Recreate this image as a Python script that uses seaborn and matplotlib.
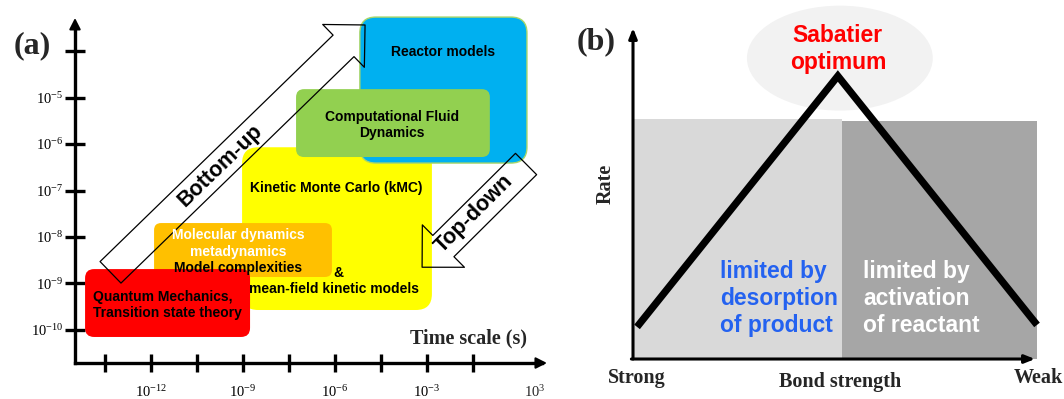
import matplotlib
matplotlib.use("Agg")
import matplotlib.pyplot as plt
import seaborn as sns
from matplotlib.patches import FancyBboxPatch, FancyArrowPatch, Rectangle, Ellipse

sns.set_theme(style="white")
plt.rcParams["font.family"] = ["Liberation Sans", "DejaVu Sans"]
plt.rcParams["mathtext.fontset"] = "custom"
plt.rcParams["mathtext.rm"] = "Liberation Serif"
plt.rcParams["mathtext.it"] = "Liberation Serif:italic"
plt.rcParams["mathtext.bf"] = "Liberation Serif:bold"
SERIF = ["Liberation Serif", "DejaVu Serif"]

# ---------------- panel (a): methods on log10 time / log10 length scales
x_tick_pos = [-13.5, -12, -10.5, -9, -7.5, -6, -4.5, -3, -1.5]
x_tick_labels = ["", "$10^{-12}$", "", "$10^{-9}$", "", "$10^{-6}$", "", "$10^{-3}$", ""]
x_extra_pos = [0.52]
x_extra_labels = ["$10^{3}$"]
y_tick_pos = [-10, -9, -8, -7, -6, -5, -4]
y_tick_labels = ["$10^{-10}$", "$10^{-9}$", "$10^{-8}$", "$10^{-7}$", "$10^{-6}$", "$10^{-5}$", ""]

# boxes, in drawing order (back to front)
box_names = ["kmc", "reactor", "cfd", "md", "qm"]
box_t_lo = [-9.03, -5.19, -7.27, -11.90, -14.15]
box_t_hi = [-2.84, 0.26, -0.95, -6.10, -8.77]
box_L_lo = [-9.57, -6.41, -6.28, -8.86, -10.15]
box_L_hi = [-6.07, -3.27, -4.82, -7.70, -8.69]
box_colors = ["#FFFF00", "#00B0F0", "#92D050", "#FFC000", "#FF0000"]
box_edges = ["none", "#A9D66A", "none", "none", "none"]
box_radius_px = [16, 16, 8, 7, 9]

# labels inside the boxes
box_text = ["Quantum Mechanics,\nTransition state theory",
            "Molecular dynamics", "metadynamics", "Model complexities",
            "Kinetic Monte Carlo (kMC)", "&", "mean-field kinetic models",
            "Computational Fluid\nDynamics", "Reactor models"]
box_text_t = [-13.89, -9.16, -9.16, -9.16, -5.95, -5.90, -6.03, -4.14, -2.48]
box_text_L = [-9.46, -7.96, -8.32, -8.67, -6.95, -8.77, -9.12, -5.59, -4.02]
box_text_color = ["black", "white", "white", "black", "black", "black", "black", "black", "black"]
box_text_ha = ["left", "center", "center", "center", "center", "center", "center", "center", "center"]

# hollow direction arrows: (tail, tip)
arrow_names = ["Bottom-up", "Top-down"]
arrow_tail = [(-13.32, -8.76), (0.23, -6.43)]
arrow_tip = [(-5.02, -3.44), (-3.16, -8.65)]
arrow_text_pos = [(-9.75, -6.47), (-1.47, -7.50)]
arrow_text_rot = [44, 45]

# ---------------- panel (b): volcano plot
bond = [0.01, 0.507, 1.0]
rate = [0.097, 0.855, 0.103]
region_x = [0.002, 0.517]
region_w = [0.515, 0.483]
region_h = [0.725, 0.719]
region_colors = ["#D9D9D9", "#A6A6A6"]

fig = plt.figure(figsize=(10.64, 3.99), dpi=100)
fig.patch.set_facecolor("white")

# ======== panel (a)
ax = fig.add_axes([0, 0, 560 / 1064, 1])
ax.set_facecolor("none")
ax.set_xlim(-16.924, 1.337)
ax.set_ylim(-11.484, -2.903)
fig.canvas.draw()
p0 = ax.transData.transform((0, 0))
p1 = ax.transData.transform((1, 1))
px_x, px_y = p1[0] - p0[0], p1[1] - p0[1]

x_axis_L = -10.71
y_axis_t = -14.478
for side in ["top", "right"]:
    ax.spines[side].set_visible(False)
ax.spines["left"].set_position(("data", y_axis_t))
ax.spines["bottom"].set_position(("data", x_axis_L))
ax.spines["left"].set_bounds(x_axis_L, -3.45)
ax.spines["bottom"].set_bounds(y_axis_t, 0.75)
for side in ["left", "bottom"]:
    ax.spines[side].set_linewidth(2.4)
    ax.spines[side].set_color("black")
    ax.spines[side].set_capstyle("projecting")
ax.annotate("", xy=(y_axis_t, -3.29), xytext=(y_axis_t, -3.6),
            arrowprops=dict(arrowstyle="-|>,head_length=0.55,head_width=0.28",
                            color="black", lw=1.5, shrinkA=0, shrinkB=0))
ax.annotate("", xy=(0.911, x_axis_L), xytext=(0.4, x_axis_L),
            arrowprops=dict(arrowstyle="-|>,head_length=0.55,head_width=0.28",
                            color="black", lw=1.5, shrinkA=0, shrinkB=0))

ax.set_xticks(x_tick_pos)
ax.set_xticklabels(x_tick_labels)
ax.set_xticks(x_extra_pos, minor=True)
ax.set_xticklabels(x_extra_labels, minor=True)
ax.set_yticks(y_tick_pos)
ax.set_yticklabels(y_tick_labels)
ax.tick_params(axis="x", which="major", direction="inout", length=13, width=2.4,
               pad=9, labelsize=10.5, colors="black")
ax.tick_params(axis="x", which="minor", length=0, pad=15.5, labelsize=10.5)
ax.tick_params(axis="y", which="major", direction="inout", length=14.4, width=2.4,
               pad=1.5, labelsize=10.5, colors="black")
ax.tick_params(left=True, bottom=True)

aspect = px_x / px_y
for t0, t1, l0, l1, c, ec, r in zip(box_t_lo, box_t_hi, box_L_lo, box_L_hi,
                                    box_colors, box_edges, box_radius_px):
    ax.add_patch(FancyBboxPatch((t0, l0), t1 - t0, l1 - l0,
                                boxstyle=f"round,pad=0,rounding_size={r / px_x}",
                                mutation_aspect=aspect, facecolor=c,
                                edgecolor=ec, linewidth=1.0, zorder=2))

for (ta, la), (tb, lb) in zip(arrow_tail, arrow_tip):
    ax.add_patch(FancyArrowPatch((ta, la), (tb, lb),
                                 arrowstyle="simple,head_length=21.6,head_width=43,tail_width=21.6",
                                 mutation_scale=1, shrinkA=0, shrinkB=0,
                                 facecolor="none", edgecolor="black",
                                 linewidth=0.9, zorder=4))

for s, t, l, c, ha in zip(box_text, box_text_t, box_text_L, box_text_color, box_text_ha):
    ax.text(t, l, s, color=c, ha=ha, va="center", fontsize=10, fontweight="bold",
            linespacing=1.15, zorder=5)

for s, (t, l), rot in zip(arrow_names, arrow_text_pos, arrow_text_rot):
    ax.text(t, l, s, rotation=rot, rotation_mode="anchor", ha="center", va="center",
            fontsize=15.5, fontweight="bold", color="black", zorder=5)

ax.text(-1.66, -10.19, "Time scale (s)", family=SERIF, fontweight="bold",
        fontsize=14.5, ha="center", va="center")
ax.text(-15.88, -3.89, "(a)", family=SERIF, fontweight="bold", fontsize=23,
        ha="center", va="center")

# ======== panel (b)
bx = fig.add_axes([560 / 1064, 0, 504 / 1064, 1])
bx.set_facecolor("none")
bx.set_xlim(-0.1807, 1.0668)
bx.set_ylim(-0.1208, 1.0846)
bx.set_axis_off()

for x0, w, h, c in zip(region_x, region_w, region_h, region_colors):
    bx.add_patch(Rectangle((x0, 0), w, h, facecolor=c, edgecolor="none", zorder=1))
bx.add_patch(Ellipse((0.512, 0.909), 0.46, 0.317, facecolor="#F2F2F2",
                     edgecolor="none", zorder=1))

sns.lineplot(x=bond, y=rate, sort=False, color="black", linewidth=5.2, ax=bx,
             zorder=3, solid_joinstyle="miter", solid_capstyle="butt")

bx.annotate("", xy=(0, 1.0), xytext=(0, 0),
            arrowprops=dict(arrowstyle="-|>,head_length=0.5,head_width=0.2",
                            color="black", lw=2.2, shrinkA=0, shrinkB=0), zorder=4)
bx.annotate("", xy=(0.995, 0), xytext=(-0.004, 0),
            arrowprops=dict(arrowstyle="-|>,head_length=0.5,head_width=0.2",
                            color="black", lw=2.2, shrinkA=0, shrinkB=0), zorder=4)

bx.text(0.507, 0.937, "Sabatier\noptimum", color="#FF0000", fontsize=16.5,
        fontweight="bold", ha="center", va="center", linespacing=1.2, zorder=5)
bx.text(0.2153, 0.183, "limited by\ndesorption\nof product", color="#2462F0",
        fontsize=16.5, fontweight="bold", ha="left", va="center", linespacing=1.2, zorder=5)
bx.text(0.569, 0.183, "limited by\nactivation\nof reactant", color="white",
        fontsize=16.5, fontweight="bold", ha="left", va="center", linespacing=1.2, zorder=5)

bx.text(-0.0668, 0.529, "Rate", rotation=90, family=SERIF, fontweight="bold",
        fontsize=14.5, ha="center", va="center")
bx.text(0.0087, -0.057, "Strong", family=SERIF, fontweight="bold", fontsize=14.5,
        ha="center", va="center")
bx.text(0.512, -0.069, "Bond strength", family=SERIF, fontweight="bold", fontsize=14.5,
        ha="center", va="center")
bx.text(1.0025, -0.057, "Weak", family=SERIF, fontweight="bold", fontsize=14.5,
        ha="center", va="center")
bx.text(-0.0916, 0.958, "(b)", family=SERIF, fontweight="bold", fontsize=23,
        ha="center", va="center")

fig.savefig("out.png", dpi=100, facecolor="white")
